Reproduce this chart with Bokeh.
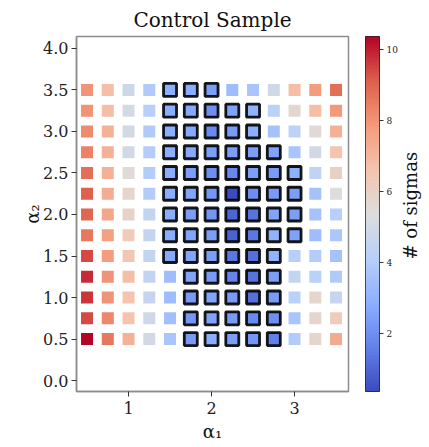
import numpy as np
from bokeh.plotting import figure
from bokeh.layouts import row
from bokeh.models import (ColumnDataSource, LinearColorMapper, FixedTicker,
                          Range1d, PrintfTickFormatter)
from bokeh.embed import file_html
from bokeh.resources import INLINE

# ---- data ----
alpha1 = [0.5, 0.75, 1.0, 1.25, 1.5, 1.75, 2.0, 2.25, 2.5, 2.75, 3.0, 3.25, 3.5]
alpha2 = [3.5, 3.25, 3.0, 2.75, 2.5, 2.25, 2.0, 1.75, 1.5, 1.25, 1.0, 0.75, 0.5]

sig_a2_350 = [8.0, 6.8, 4.8, 3.9, 2.9, 2.8, 2.4, 3.4, 3.7, 4.9, 6.8, 7.8, 8.8]
sig_a2_325 = [8.0, 6.8, 5.1, 4.1, 2.8, 2.7, 2.0, 2.5, 3.0, 4.2, 5.7, 6.8, 7.9]
sig_a2_300 = [8.2, 7.2, 5.0, 3.9, 2.9, 2.7, 1.9, 2.3, 2.9, 3.6, 4.3, 5.6, 7.2]
sig_a2_275 = [8.4, 7.2, 5.0, 4.0, 2.9, 2.7, 2.4, 2.4, 2.4, 2.5, 3.7, 5.0, 6.6]
sig_a2_250 = [8.8, 7.2, 5.5, 4.0, 2.8, 2.4, 2.0, 1.8, 2.4, 2.3, 2.9, 4.4, 6.0]
sig_a2_225 = [9.1, 7.3, 5.8, 4.0, 2.8, 2.6, 2.2, 0.38, 2.0, 2.3, 2.4, 3.6, 5.4]
sig_a2_200 = [9.0, 7.5, 5.9, 4.5, 2.8, 2.4, 2.2, 1.0, 1.3, 2.6, 2.4, 3.6, 4.1]
sig_a2_175 = [8.6, 7.7, 6.3, 4.5, 2.8, 2.6, 2.4, 0.9, 1.4, 3.0, 2.5, 3.4, 3.8]
sig_a2_150 = [9.4, 7.8, 6.5, 4.5, 2.7, 2.6, 2.4, 1.4, 1.2, 3.0, 4.1, 4.0, 3.6]
sig_a2_125 = [9.8, 8.0, 6.8, 4.5, 3.4, 2.6, 2.3, 1.7, 1.3, 2.4, 4.5, 4.2, 3.9]
sig_a2_100 = [9.7, 8.0, 6.6, 4.6, 3.4, 2.3, 2.6, 2.3, 1.2, 2.3, 4.2, 5.8, 4.6]
sig_a2_075 = [9.4, 8.3, 6.6, 4.9, 3.5, 2.2, 2.5, 2.3, 1.9, 2.0, 3.7, 5.8, 6.2]
sig_a2_050 = [10.37, 8.6, 7.2, 5.0, 3.7, 2.3, 2.8, 2.4, 2.2, 1.6, 4.0, 5.8, 7.4]

sigma_rows = [sig_a2_350, sig_a2_325, sig_a2_300, sig_a2_275, sig_a2_250, sig_a2_225,
              sig_a2_200, sig_a2_175, sig_a2_150, sig_a2_125, sig_a2_100, sig_a2_075,
              sig_a2_050]

# 1 = outlined cell
outlined_rows = [
    "0000111000000",
    "0000111110000",
    "0000111110000",
    "0000111111000",
    "0000111111100",
    "0000111111100",
    "0000111111100",
    "0000111111100",
    "0000111111000",
    "0000011111000",
    "0000011111000",
    "0000011111000",
    "0000011111000",
]

cbar_ticks = [2, 4, 6, 8, 10]
y_ticks = [0.0, 0.5, 1.0, 1.5, 2.0, 2.5, 3.0, 3.5, 4.0]
x_ticks = [1, 2, 3]
cbar_label = "# of sigmas"

# ---- coolwarm palette ----
anchors = [(59, 76, 192), (98, 130, 234), (141, 176, 254), (184, 208, 249),
           (221, 221, 221), (245, 196, 173), (244, 154, 123), (222, 96, 77),
           (180, 4, 38)]
pal = []
n = 256
for k in range(n):
    t = k / (n - 1) * (len(anchors) - 1)
    i = min(int(t), len(anchors) - 2)
    f = t - i
    c = [round(anchors[i][m] + (anchors[i + 1][m] - anchors[i][m]) * f) for m in range(3)]
    pal.append("#%02x%02x%02x" % tuple(c))

xs, ys, vs, box = [], [], [], []
for i, a2 in enumerate(alpha2):
    for j, a1 in enumerate(alpha1):
        xs.append(a1)
        ys.append(a2)
        vs.append(sigma_rows[i][j])
        box.append(outlined_rows[i][j] == "1")

src_plain = ColumnDataSource(dict(
    x=[x for x, b in zip(xs, box) if not b],
    y=[y for y, b in zip(ys, box) if not b],
    v=[v for v, b in zip(vs, box) if not b]))
src_box = ColumnDataSource(dict(
    x=[x for x, b in zip(xs, box) if b],
    y=[y for y, b in zip(ys, box) if b],
    v=[v for v, b in zip(vs, box) if b]))

vmin, vmax = min(vs), max(vs)
mapper = LinearColorMapper(palette=pal, low=vmin, high=vmax)

FONT = "DejaVu Serif"
H = 447

# ---- main heat map ----
p = figure(width=365, height=H, x_range=Range1d(0.373, 3.65), y_range=Range1d(-0.132, 4.144),
           output_backend="svg", toolbar_location=None,
           min_border_left=76, min_border_right=17, min_border_top=35, min_border_bottom=56)

p.scatter("x", "y", source=src_plain, marker="square", size=12,
          fill_color={"field": "v", "transform": mapper}, line_color=None)
p.scatter("x", "y", source=src_box, marker="square", size=13,
          fill_color={"field": "v", "transform": mapper}, line_color="black",
          line_width=2.8, line_alpha=0.9)

p.grid.visible = False
p.outline_line_color = "#8c8c8c"
p.outline_line_width = 1.5

p.title.text = "Control Sample"
p.title.align = "center"
p.title.text_font = FONT
p.title.text_font_size = "20px"
p.title.text_font_style = "normal"
p.title.text_color = "#111111"

for ax in (p.xaxis[0], p.yaxis[0]):
    ax.axis_line_color = "#8c8c8c"
    ax.axis_line_width = 1.5
    ax.major_tick_line_color = "#333333"
    ax.major_tick_out = 5
    ax.major_tick_in = 0
    ax.minor_tick_line_color = None
    ax.major_label_text_font = FONT
    ax.major_label_text_font_size = "16px"
    ax.major_label_text_color = "#222222"
    ax.axis_label_text_font = FONT
    ax.axis_label_text_font_size = "18px"
    ax.axis_label_text_font_style = "normal"
    ax.axis_label_text_color = "#111111"

p.xaxis.ticker = FixedTicker(ticks=x_ticks)
p.yaxis.ticker = FixedTicker(ticks=y_ticks)
p.yaxis.formatter = PrintfTickFormatter(format="%.1f")
p.xaxis.axis_label = "α₁"
p.yaxis.axis_label = "α₂"
p.xaxis.axis_label_standoff = 4
p.yaxis.axis_label_standoff = -3
p.xaxis.major_label_standoff = 5
p.yaxis.major_label_standoff = 3

# ---- colour bar ----
cb = figure(width=35, height=H, x_range=Range1d(0, 1), y_range=Range1d(vmin, vmax),
            output_backend="svg", toolbar_location=None,
            x_axis_location=None, y_axis_location="right",
            min_border_left=0, min_border_right=17, min_border_top=35, min_border_bottom=56)
grad = np.linspace(vmin, vmax, 256).reshape(256, 1)
cb.image(image=[grad], x=0, y=vmin, dw=1, dh=vmax - vmin, color_mapper=mapper)
cb.grid.visible = False
cb.outline_line_color = "#222222"
cb.outline_line_width = 1
ya = cb.yaxis[0]
ya.ticker = FixedTicker(ticks=cbar_ticks)
ya.axis_line_color = None
ya.major_tick_line_color = "#333333"
ya.major_tick_out = 4
ya.major_tick_in = 0
ya.minor_tick_line_color = None
ya.major_label_text_font = FONT
ya.major_label_text_font_size = "9px"
ya.major_label_text_color = "#222222"
ya.major_label_standoff = 3

# ---- colour bar label ----
lab = figure(width=429 - 365 - 35, height=H, x_range=Range1d(0, 29), y_range=Range1d(0, H),
             output_backend="svg", toolbar_location=None,
             x_axis_location=None, y_axis_location=None,
             min_border_left=0, min_border_right=0, min_border_top=0, min_border_bottom=0)
lab.grid.visible = False
lab.outline_line_color = None
lab.text(x=[10], y=[H - 213], text=[cbar_label], angle=np.pi / 2,
         text_align="center", text_baseline="middle",
         text_font={"value": FONT}, text_font_size="18px", text_color="#111111")

layout = row(p, cb, lab, spacing=0)
open("out.html", "w").write(file_html(layout, INLINE))
